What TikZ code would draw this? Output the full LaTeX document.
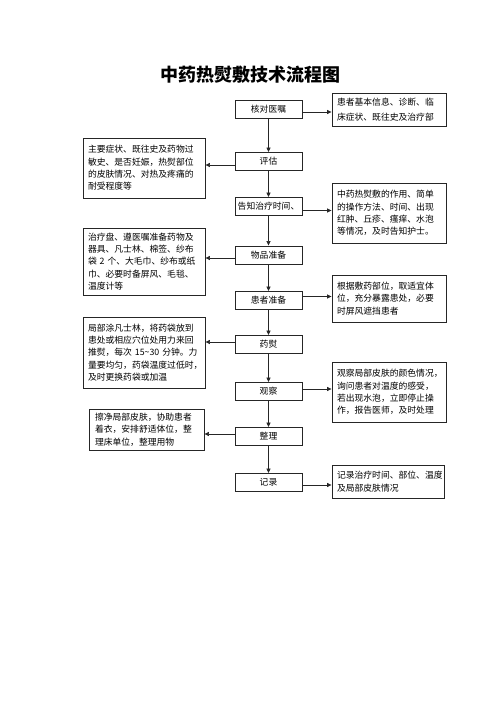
\documentclass[tikz,border=0pt]{standalone}
\usepackage{fontspec}
\newfontfamily\cjk{Noto Sans CJK SC}
\usetikzlibrary{arrows.meta}
\begin{document}
\begin{tikzpicture}[x=1pt,y=-1pt,
  box/.style={draw=black!85, line width=0.9pt, font=\cjk\fontsize{8.8}{12.3}\selectfont, inner sep=0pt},
  mid/.style={box, minimum width=67pt, minimum height=18pt},
  note/.style={box, align=left, inner xsep=5pt},
  arr/.style={-{Triangle[length=4.5pt,width=4pt]}, line width=0.7pt, draw=black!85}]
\useasboundingbox (0,0) rectangle (500,708);
\node[font=\cjk\bfseries\fontsize{18}{20}\selectfont] (title) at (250,75) {中药热熨敷技术流程图};
% centre column
\node[mid] (c1) at (268.5,109) {核对医嘱};
\node[mid] (c2) at (268.5,161.5) {评估};
\node[mid] (c3) at (268.5,206.5) {告知治疗时间、};
\node[mid] (c4) at (268.5,255) {物品准备};
\node[mid] (c5) at (268.5,300.5) {患者准备};
\node[mid] (c6) at (268.5,344.5) {药熨};
\node[mid] (c7) at (268.5,391.5) {观察};
\node[mid] (c8) at (268.5,436.5) {整理};
\node[mid] (c9) at (268.5,482.5) {记录};
% right notes
\node[note, text width=104pt, minimum height=33pt, font=\cjk\fontsize{8.8}{15}\selectfont] (r1) at (389,109.5) {患者基本信息、诊断、临\\床症状、既往史及治疗部};
\node[note, text width=104pt, minimum height=60pt] (r2) at (389,213) {中药热熨敷的作用、简单\\的操作方法、时间、出现\\红肿、丘疹、瘙痒、水泡\\等情况，及时告知护士。};
\node[note, text width=104pt, minimum height=47pt] (r3) at (389,298.5) {根据敷药部位，取适宜体\\位，充分暴露患处，必要\\时屏风遮挡患者};
\node[note, text width=104pt, minimum height=60pt] (r4) at (389,392) {观察局部皮肤的颜色情况，\\询问患者对温度的感受，\\若出现水泡，立即停止操\\作，报告医师，及时处理};
\node[note, text width=102pt, minimum height=33pt] (r5) at (388,481.5) {记录治疗时间、部位、温度\\及局部皮肤情况};
% left notes
\node[note, text width=112pt, minimum height=60pt] (l1) at (144,168) {主要症状、既往史及药物过\\敏史、是否妊娠，热熨部位\\的皮肤情况、对热及疼痛的\\耐受程度等};
\node[note, text width=112pt, minimum height=67pt] (l2) at (144,261.5) {治疗盘、遵医嘱准备药物及\\器具、凡士林、棉签、纱布\\袋 2 个、大毛巾、纱布或纸\\巾、必要时备屏风、毛毯、\\温度计等};
\node[note, text width=112pt, minimum height=71pt] (l3) at (144,352.5) {局部涂凡士林，将药袋放到\\患处或相应穴位处用力来回\\推熨，每次 15\textasciitilde30 分钟。力\\量要均匀，药袋温度过低时，\\及时更换药袋或加温};
\node[note, text width=103pt, minimum height=41pt, inner xsep=6pt] (l4) at (146.5,429.5) {擦净局部皮肤，协助患者\\着衣，安排舒适体位，整\\理床单位，整理用物};
% vertical flow
\foreach \a/\b in {c1/c2,c2/c3,c3/c4,c4/c5,c5/c6,c6/c7,c7/c8,c8/c9}
  \draw[arr] (\a.south) -- (\b.north);
% right arrows
\draw[arr] ([yshift=-3pt]c1.east) -- ([yshift=-3pt]c1.east -| r1.west);
\draw[arr] ([yshift=-4pt]c3.east) -- ([yshift=-4pt]c3.east -| r2.west);
\draw[arr] ([yshift=4pt]c5.east) -- ([yshift=4pt]c5.east -| r3.west);
\draw[arr] ([yshift=2.5pt]c7.east) -- ([yshift=2.5pt]c7.east -| r4.west);
\draw[arr] ([yshift=-2.5pt]c9.east) -- ([yshift=-2.5pt]c9.east -| r5.west);
% left arrows
\draw[arr] ([yshift=-3.5pt]c2.west) -- ([yshift=-3.5pt]c2.west -| l1.east);
\draw[arr] ([yshift=-3pt]c4.west) -- ([yshift=-3pt]c4.west -| l2.east);
\draw[arr] ([yshift=2.5pt]c6.west) -- ([yshift=2.5pt]c6.west -| l3.east);
\draw[arr] ([yshift=2.5pt]c8.west) -- ([yshift=2.5pt]c8.west -| l4.east);
\end{tikzpicture}
\end{document}
